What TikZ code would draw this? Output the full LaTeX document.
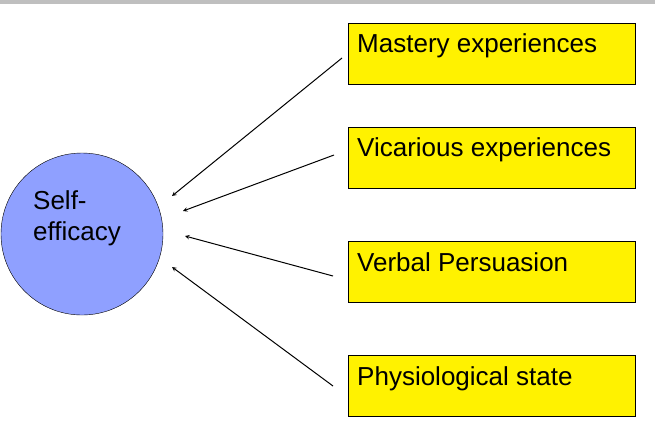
\documentclass[tikz,border=0pt]{standalone}
\usepackage{fontspec}
\setmainfont{Liberation Sans}
\begin{document}
\begin{tikzpicture}[x=1pt,y=-1pt,
  box/.style={draw, fill=yellow, minimum width=287pt, minimum height=61pt, anchor=north west, inner sep=0pt},
  lbl/.style={anchor=north west, font=\fontsize{26}{31}\selectfont, inner sep=0pt},
  arr/.style={->, >=stealth, line width=1pt}]
\useasboundingbox (0,0) rectangle (655,440);
\fill[gray!50] (0,0) rectangle (655,4);
\node[circle, draw, fill={rgb,255:red,143;green,160;blue,255}, minimum size=162pt, inner sep=0pt] (se) at (82,234) {};
\node[lbl, align=left] (set) at (33,190) {Self-\\efficacy};
\node[box] (b1) at (348,23) {};
\node[box] (b2) at (348,127) {};
\node[box] (b3) at (348,241) {};
\node[box] (b4) at (348,355) {};
\node[lbl] (t1) at (357,33) {Mastery experiences};
\node[lbl] (t2) at (357,137) {Vicarious experiences};
\node[lbl] (t3) at (357,252) {Verbal Persuasion};
\node[lbl] (t4) at (357,366) {Physiological state};
\coordinate (s1) at (342,58);
\coordinate (s2) at (334,155);
\coordinate (s3) at (333,276);
\coordinate (s4) at (333,386);
\coordinate (e1) at (172,196);
\coordinate (e2) at (183,211);
\coordinate (e3) at (185,236);
\coordinate (e4) at (172,267);
\draw[arr] (s1) -- (e1);
\draw[arr] (s2) -- (e2);
\draw[arr] (s3) -- (e3);
\draw[arr] (s4) -- (e4);
\end{tikzpicture}
\end{document}
